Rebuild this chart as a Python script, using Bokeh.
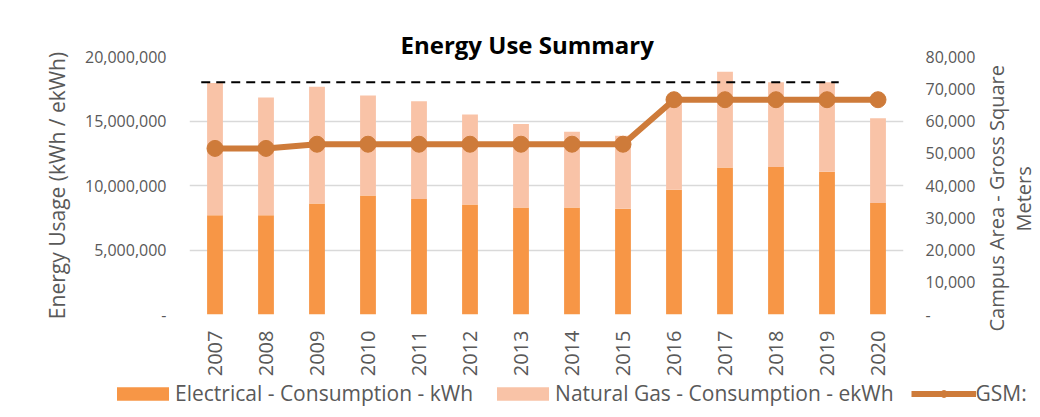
import math
from bokeh.plotting import figure
from bokeh.layouts import row, column
from bokeh.models import (Range1d, LinearAxis, FixedTicker, NumeralTickFormatter,
                          Legend, LegendItem, Title, ColumnDataSource)
from bokeh.embed import file_html
from bokeh.resources import INLINE

# ---------------- data ----------------
years = [2007, 2008, 2009, 2010, 2011, 2012, 2013, 2014, 2015, 2016, 2017, 2018, 2019, 2020]
electrical = [7_700_000, 7_700_000, 8_600_000, 9_220_000, 8_960_000, 8_530_000, 8_290_000,
              8_290_000, 8_190_000, 9_680_000, 11_390_000, 11_440_000, 11_060_000, 8_650_000]
natural_gas = [10_250_000, 9_120_000, 9_060_000, 7_750_000, 7_580_000, 6_980_000, 6_480_000,
               5_870_000, 5_660_000, 7_120_000, 7_430_000, 6_560_000, 6_940_000, 6_560_000]
gsm = [51_500, 51_500, 52_800, 52_800, 52_800, 52_800, 52_800, 52_800, 52_800,
       66_600, 66_600, 66_600, 66_600, 66_600]
target = 18_000_000
left_ticks = [0, 5_000_000, 10_000_000, 15_000_000, 20_000_000]
right_ticks = [0, 10_000, 20_000, 30_000, 40_000, 50_000, 60_000, 70_000, 80_000]
year_labels = [str(y) for y in years]
series_names = ["Electrical - Consumption - kWh", "Natural Gas - Consumption - ekWh", "GSM:"]
right_label_lines = ["Campus Area - Gross Square", "Meters"]

C_ELEC = "#F79646"
C_GAS = "#F9C3A7"
C_GSM = "#CE7B3A"
TXT = "#595959"
GRID = "#D9D9D9"
FONT = "Open Sans"

src = ColumnDataSource(dict(year=years, electrical=electrical, gas=natural_gas, gsm=gsm))

# ---------------- main chart ----------------
p = figure(width=980, height=379,
           x_range=Range1d(years[0] - 0.5, years[-1] + 0.5),
           y_range=Range1d(left_ticks[0], left_ticks[-1]),
           output_backend="svg", toolbar_location=None,
           min_border_left=189, min_border_right=77,
           min_border_top=56, min_border_bottom=63)
p.extra_y_ranges = {"gsm": Range1d(right_ticks[0], right_ticks[-1])}
p.outline_line_color = None
p.background_fill_color = "white"
p.border_fill_color = "white"

p.xgrid.visible = False
p.ygrid.ticker = FixedTicker(ticks=left_ticks)
p.ygrid.grid_line_color = GRID
p.ygrid.grid_line_width = 1.3

bars = p.vbar_stack(["electrical", "gas"], x="year", width=0.31, source=src,
                    color=[C_ELEC, C_GAS], line_color=None)

p.segment(x0=[years[0] - 0.27], y0=[target], x1=[years[-2] + 0.23], y1=[target],
          line_color="black", line_width=2, line_dash="9 6")

p.line("year", "gsm", source=src, y_range_name="gsm", line_color=C_GSM, line_width=6)
p.scatter("year", "gsm", source=src, y_range_name="gsm", size=16,
          fill_color=C_GSM, line_color=C_GSM)


def style_axis(ax, size):
    ax.major_label_text_font = FONT
    ax.major_label_text_font_size = size
    ax.major_label_text_color = TXT
    ax.axis_line_color = None
    ax.major_tick_line_color = None
    ax.minor_tick_line_color = None
    ax.major_tick_out = 0
    ax.major_tick_in = 0
    ax.minor_tick_out = 0
    ax.minor_tick_in = 0


xa = p.xaxis[0]
xa.ticker = FixedTicker(ticks=years)
xa.major_label_overrides = {y: s for y, s in zip(years, year_labels)}
xa.major_label_orientation = math.pi / 2
xa.major_label_standoff = 16
style_axis(xa, "20px")

ya = p.yaxis[0]
ya.ticker = FixedTicker(ticks=left_ticks)
ya.formatter = NumeralTickFormatter(format="0,0")
ya.major_label_overrides = {0: "-"}
ya.major_label_standoff = 23
style_axis(ya, "16px")
ya.axis_label = "Energy Usage (kWh / ekWh)"
ya.axis_label_text_font = FONT
ya.axis_label_text_font_size = "21px"
ya.axis_label_text_font_style = "normal"
ya.axis_label_text_color = TXT
ya.axis_label_standoff = 11

ra = LinearAxis(y_range_name="gsm", ticker=FixedTicker(ticks=right_ticks),
                formatter=NumeralTickFormatter(format="0,0"),
                major_label_overrides={0: "-"})
ra.major_label_standoff = 22
style_axis(ra, "16px")
p.add_layout(ra, "right")

p.add_layout(Title(text="Energy Use Summary", text_font=FONT, text_font_size="24px",
                   text_font_style="bold", text_color="black", align="left",
                   offset=211, standoff=-8), "above")

# ---------------- right axis title (reads bottom-to-top) ----------------
pr = figure(width=60, height=379, x_range=Range1d(0, 1), y_range=Range1d(0, 1),
            output_backend="svg", toolbar_location=None,
            x_axis_type=None, y_axis_type=None,
            min_border_left=9, min_border_right=0, min_border_top=0, min_border_bottom=0)
pr.outline_line_color = None
pr.grid.visible = False
# added nearest-the-frame first: "Meters" then the first line
pr.add_layout(Title(text=right_label_lines[1], text_font=FONT, text_font_size="20px",
                    text_font_style="normal", text_color=TXT,
                    align="left", offset=83, standoff=-4), "left")
pr.add_layout(Title(text=right_label_lines[0], text_font=FONT, text_font_size="20px",
                    text_font_style="normal", text_color=TXT,
                    align="left", offset=-17, standoff=0), "left")

# ---------------- legend strip ----------------
pl = figure(width=1040, height=38, x_range=Range1d(0, 1), y_range=Range1d(0, 1),
            output_backend="svg", toolbar_location=None,
            x_axis_type=None, y_axis_type=None, min_border=0)
pl.outline_line_color = None
pl.grid.visible = False
# legend proxies use the real data, but lie outside this strip's visible range
lg_e = pl.vbar(x="year", top="electrical", width=0.31, source=src, color=C_ELEC, line_color=None)
lg_g = pl.vbar(x="year", top="gas", width=0.31, source=src, color=C_GAS, line_color=None)
lg_l = pl.line(x="year", y="gsm", source=src, line_color=C_GSM, line_width=6)
lg_s = pl.scatter(x="year", y="gsm", source=src, size=12, fill_color=C_GSM, line_color=C_GSM)

legend = Legend(items=[
    LegendItem(label=series_names[0], renderers=[lg_e]),
    LegendItem(label=series_names[1], renderers=[lg_g]),
    LegendItem(label=series_names[2], renderers=[lg_l, lg_s]),
], orientation="horizontal", location=(110, 10))
legend.glyph_width = 65
legend.glyph_height = 17
legend.label_standoff = 0
legend.spacing = 17
legend.padding = 0
legend.margin = 0
legend.border_line_color = None
legend.background_fill_alpha = 0
legend.label_text_font = FONT
legend.label_text_font_size = "21px"
legend.label_text_color = TXT
pl.add_layout(legend)

layout = column(row(p, pr), pl)
open("out.html", "w").write(file_html(layout, INLINE))
